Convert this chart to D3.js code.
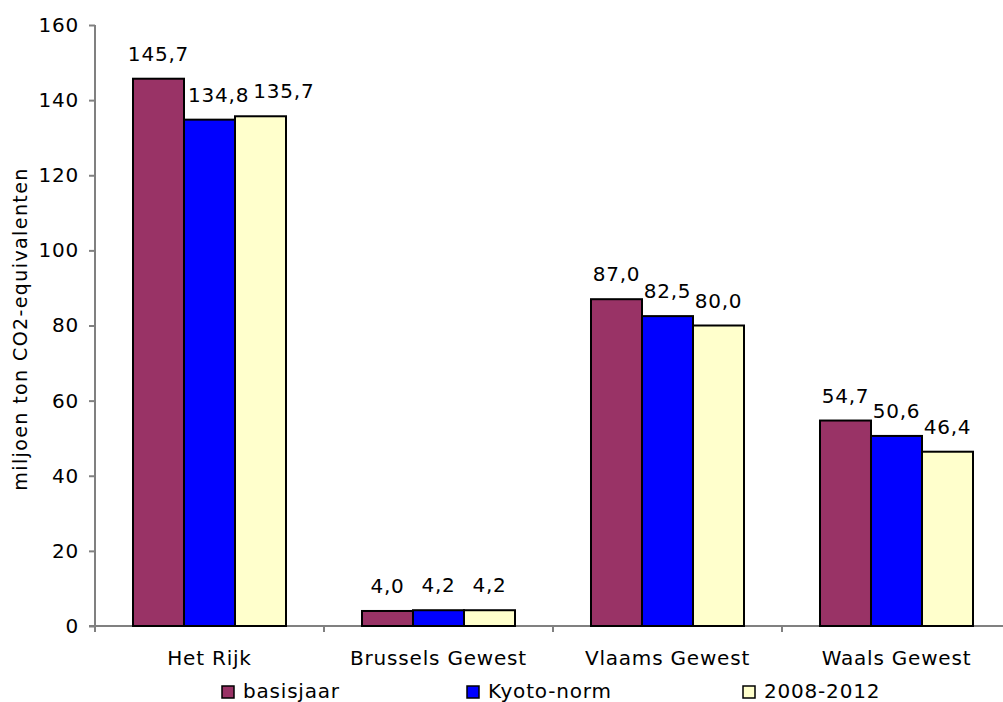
<!DOCTYPE html>
<html>
<head>
<meta charset="utf-8">
<script src="https://cdn.jsdelivr.net/npm/d3@7"></script>
<style>
  body { margin: 0; background: #fff; }
  svg { display: block; font-family: "DejaVu Sans", sans-serif; }
</style>
</head>
<body>
<svg id="chart" width="1003" height="702"></svg>
<script>
// data
const categories = ["Het Rijk", "Brussels Gewest", "Vlaams Gewest", "Waals Gewest"];
const seriesNames = ["basisjaar", "Kyoto-norm", "2008-2012"];
const basisjaar = [145.7, 4.0, 87.0, 54.7];
const kyotoNorm = [134.8, 4.2, 82.5, 50.6];
const periode = [135.7, 4.2, 80.0, 46.4];
const yTicks = [0, 20, 40, 60, 80, 100, 120, 140, 160];
const colors = ["#993366", "#0000ff", "#ffffcc"];

const series = [basisjaar, kyotoNorm, periode];

const svg = d3.select("#chart");
const margin = { left: 95, top: 25, bottom: 75 };
const plotW = 229 * categories.length;
const plotH = 702 - margin.top - margin.bottom - 1;
const fontSize = 20;
const spacing = 0.8;

const x = d3.scaleBand().domain(categories).range([margin.left, margin.left + plotW]).paddingInner(0).paddingOuter(0);
const inner = d3.scaleBand().domain(seriesNames).range([0, x.bandwidth()]).paddingInner(0).paddingOuter(0.745);
const y = d3.scaleLinear().domain([0, 160]).range([margin.top + plotH, margin.top]);

const fmt = v => v.toFixed(1).replace(".", ",");

// y axis
const yAxis = svg.append("g")
    .attr("transform", `translate(${margin.left},0)`)
    .call(d3.axisLeft(y).tickValues(yTicks).tickSize(6).tickPadding(10));
yAxis.selectAll("path, line").attr("stroke", "#808080").attr("stroke-width", 2);
yAxis.select("path").attr("d", `M0,${y(160)}V${y(0)}`);
yAxis.selectAll("text").attr("font-size", fontSize).attr("fill", "#000")
    .attr("font-family", "DejaVu Sans").attr("letter-spacing", spacing);

// x axis
const xAxis = svg.append("g")
    .attr("transform", `translate(0,${y(0)})`);
xAxis.append("line")
    .attr("x1", margin.left - 6).attr("x2", margin.left + plotW)
    .attr("stroke", "#808080").attr("stroke-width", 2);
xAxis.selectAll(".tick")
    .data(d3.range(categories.length + 1))
    .join("line")
    .attr("x1", i => margin.left + i * x.step())
    .attr("x2", i => margin.left + i * x.step())
    .attr("y1", 0).attr("y2", 6)
    .attr("stroke", "#808080").attr("stroke-width", 2);
xAxis.selectAll(".cat")
    .data(categories)
    .join("text")
    .attr("x", d => x(d) + x.bandwidth() / 2)
    .attr("y", 39)
    .attr("text-anchor", "middle")
    .attr("font-size", fontSize)
    .attr("letter-spacing", spacing)
    .text(d => d);

// bars
seriesNames.forEach((name, si) => {
    svg.append("g").selectAll("rect")
        .data(categories)
        .join("rect")
        .attr("x", d => x(d) + inner(name))
        .attr("y", (d, i) => y(series[si][i]))
        .attr("width", inner.bandwidth())
        .attr("height", (d, i) => y(0) - y(series[si][i]))
        .attr("fill", colors[si])
        .attr("stroke", "#000")
        .attr("stroke-width", 2);
});

// value labels, nudged right like Excel does when they would collide
const labelLayer = svg.append("g");
categories.forEach((cat, ci) => {
    const placed = []; // boxes of earlier bars and labels in this group
    seriesNames.forEach((name, si) => {
        const v = series[si][ci];
        const bx = x(cat) + inner(name);
        const base = y(v) - 18;
        const t = labelLayer.append("text")
            .attr("x", bx + inner.bandwidth() / 2)
            .attr("y", base)
            .attr("text-anchor", "middle")
            .attr("font-size", fontSize)
            .attr("letter-spacing", spacing)
            .text(fmt(v));
        const w = t.node().getComputedTextLength();
        let left = bx + inner.bandwidth() / 2 - w / 2;
        const top = base - 15, bottom = base + 2;
        placed.forEach(b => {
            if (b.top < bottom && b.bottom > top && left < b.right) left = b.right + 4;
        });
        t.attr("x", left + w / 2);
        placed.push({ right: left + w, top: top, bottom: bottom });
        placed.push({ right: bx + inner.bandwidth(), top: y(v), bottom: y(0) });
    });
});

// y title
svg.append("text")
    .attr("transform", `translate(27,329) rotate(-90)`)
    .attr("text-anchor", "middle")
    .attr("font-size", 19)
    .attr("letter-spacing", 1.4)
    .text("miljoen ton CO2-equivalenten");

// legend
const legendX = [222, 467, 743];
const legend = svg.append("g").attr("transform", "translate(0,686)");
seriesNames.forEach((name, si) => {
    legend.append("rect")
        .attr("x", legendX[si]).attr("y", 0)
        .attr("width", 12).attr("height", 12)
        .attr("fill", colors[si])
        .attr("stroke", "#000").attr("stroke-width", 1.5);
    legend.append("text")
        .attr("x", legendX[si] + 21).attr("y", 12)
        .attr("font-size", fontSize)
        .attr("letter-spacing", spacing)
        .text(name);
});
</script>
</body>
</html>
